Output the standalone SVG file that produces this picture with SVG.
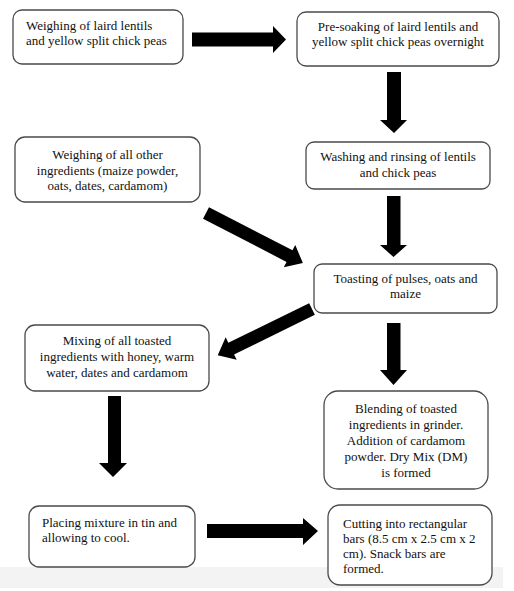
<svg xmlns="http://www.w3.org/2000/svg" width="514" height="591" viewBox="0 0 514 591">
<style>
.box{fill:#fff;stroke:#4a4a4a;stroke-width:1.3}
.t{font-family:'Liberation Serif','Tinos','Times New Roman','DejaVu Serif',serif;font-size:13px;fill:#111}
.c{text-anchor:middle}
.arr{fill:#000}
</style>
<rect x="0" y="0" width="514" height="591" fill="#fff"/>
<rect x="0" y="567" width="503" height="21" fill="#f3f3f3"/>
<g id="connectors">
<polygon class="arr" points="192,32.5 273,32.5 273,26 286,39.5 273,53 273,46.5 192,46.5"/>
<polygon class="arr" points="387,72 401,72 401,120 407,120 394,133 380,120 387,120"/>
<polygon class="arr" points="387,196 400.5,196 400.5,245 407,245 393.5,257 380,245 387,245"/>
<polygon class="arr" points="0,-6.5 94,-6.5 94,-12.5 109,0 94,12.5 94,6.5 0,6.5" transform="translate(206,213) rotate(27.3)"/>
<polygon class="arr" points="0,-6.5 90,-6.5 90,-12.5 105,0 90,12.5 90,6.5 0,6.5" transform="translate(312,309) rotate(153.9)"/>
<polygon class="arr" points="387,323 400.5,323 400.5,370 407,370 393.5,385 380,370 387,370"/>
<polygon class="arr" points="108,396 121,396 121,463 127,463 113,477 99,463 108,463"/>
<polygon class="arr" points="207,524 303,524 303,518 318,531 303,545 303,538 207,538"/>
</g>
<g id="n1"><rect class="box" x="13" y="10" width="170" height="54" rx="9"/>
<text class="t" font-family="Liberation Serif, serif" x="26" y="30">Weighing of laird lentils</text>
<text class="t" font-family="Liberation Serif, serif" x="26" y="45">and yellow split chick peas</text></g>
<g id="n2"><rect class="box" x="297" y="12" width="202" height="54" rx="9"/>
<text class="t c" x="398" y="31">Pre-soaking of laird lentils and</text>
<text class="t c" x="398" y="46">yellow split chick peas overnight</text></g>
<g id="n3"><rect class="box" x="15" y="137" width="185" height="65" rx="10"/>
<text class="t c" x="107.5" y="159">Weighing of all other</text>
<text class="t c" x="107.5" y="175">ingredients (maize powder,</text>
<text class="t c" x="107.5" y="190">oats, dates, cardamom)</text></g>
<g id="n4"><rect class="box" x="306" y="142" width="184" height="47" rx="8"/>
<text class="t c" x="398" y="161">Washing and rinsing of lentils</text>
<text class="t c" x="398" y="177">and chick peas</text></g>
<g id="n5"><rect class="box" x="314" y="264" width="183" height="49" rx="8"/>
<text class="t c" x="405.5" y="283">Toasting of pulses, oats and</text>
<text class="t c" x="405.5" y="298">maize</text></g>
<g id="n6"><rect class="box" x="25" y="325" width="184" height="66" rx="10"/>
<text class="t c" x="117" y="345">Mixing of all toasted</text>
<text class="t c" x="117" y="361">ingredients with honey, warm</text>
<text class="t c" x="117" y="377">water, dates and cardamom</text></g>
<g id="n7"><rect class="box" x="324" y="391" width="164" height="98" rx="14"/>
<text class="t c" x="406" y="413">Blending of toasted</text>
<text class="t c" x="406" y="429">ingredients in grinder.</text>
<text class="t c" x="406" y="445">Addition of cardamom</text>
<text class="t c" x="406" y="461">powder. Dry Mix (DM)</text>
<text class="t c" x="406" y="477">is formed</text></g>
<g id="n8"><rect class="box" x="29" y="506" width="166" height="61" rx="10"/>
<text class="t" x="42" y="527">Placing mixture in tin and</text>
<text class="t" x="42" y="542">allowing to cool.</text></g>
<g id="n9"><rect class="box" x="328" y="505" width="164" height="80" rx="12"/>
<text class="t" x="343" y="528">Cutting into rectangular</text>
<text class="t" x="343" y="543">bars (8.5 cm x 2.5 cm x 2</text>
<text class="t" x="343" y="558">cm). Snack bars are</text>
<text class="t" x="343" y="573">formed.</text></g>
</svg>
